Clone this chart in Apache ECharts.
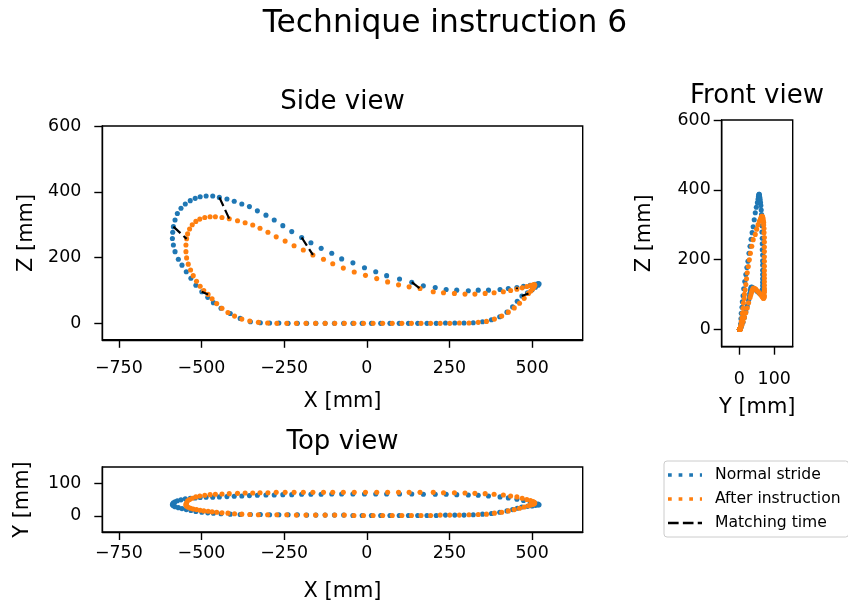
<!DOCTYPE html>
<html><head><meta charset="utf-8">
<script src="https://cdn.jsdelivr.net/npm/echarts@6/dist/echarts.min.js"></script>
<style>html,body{margin:0;padding:0;background:#fff}#c{width:848px;height:603px}</style>
</head><body><div id="c"></div>
<script>
// Normal stride (blue), time-ordered samples
const normX=[322,294,266,238,210,182,154,126,98,70,42,14,-14,-42,-70,-98,-126,-154,-182,-210,-238,-266,-294,-322,-352,-383,-413,-441,-464,-481,-499,-517,-532,-546,-559,-570,-580,-585,-588,-587,-585,-580,-573,-562,-549,-534,-519,-504,-486,-466,-446,-423,-401,-378,-355,-331,-305,-280,-254,-227,-197,-169,-138,-106,-76,-42,-7,27,60,99,136,171,207,240,272,307,337,368,403,428,454,474,494,509,518,521,518,510,500,486,469,455,441,424,402,377,350];
const normZ=[2,1,1,1,0,0,0,0,0,0,0,0,0,0,0,0,0,0,0,0,0,1,1,2,5,15,30,46,63,79,96,116,137,157,177,195,218,238,258,277,294,314,334,350,363,373,380,385,387,387,383,378,371,363,355,342,329,314,297,279,261,245,228,213,196,184,169,157,145,135,125,114,109,103,101,99,101,101,103,106,109,113,116,119,121,120,116,110,102,93,83,67,50,34,20,11,5];
const normY=[3,2,2,2,1,1,1,1,1,1,1,1,1,1,2,2,2,2,2,3,3,3,3,4,4,4,5,6,8,9,11,13,16,19,22,25,28,31,34,37,40,43,46,49,52,54,55,56,57,57,58,59,60,61,62,63,64,64,65,65,66,66,66,67,67,67,67,67,67,67,67,66,66,66,65,64,63,61,58,55,51,47,43,39,36,34,33,32,30,29,27,23,19,15,11,7,5];
// After instruction (orange), time-ordered samples
const instX=[309,280,251,222,193,164,135,106,77,48,19,-10,-39,-68,-97,-126,-155,-184,-213,-242,-272,-300,-328,-354,-378,-400,-420,-438,-454,-468,-480,-493,-504,-515,-525,-533,-540,-545,-547,-547,-545,-542,-536,-528,-517,-505,-490,-474,-458,-438,-416,-391,-368,-345,-323,-299,-274,-247,-220,-192,-163,-131,-103,-71,-38,-4,30,63,96,128,161,201,232,265,297,327,358,385,413,435,454,470,484,495,503,507,508,506,502,496,489,476,462,446,428,408,386,362,337];
const instZ=[1,1,0,0,0,0,0,0,0,0,0,0,0,0,0,0,0,0,0,0,0,1,3,7,13,22,33,46,60,75,88,100,113,128,145,162,180,199,218,238,257,272,287,300,310,317,322,324,324,322,318,312,306,299,289,277,263,250,236,223,208,195,181,168,156,146,136,126,117,111,106,96,93,91,89,89,91,93,96,100,104,108,112,115,117,118,116,111,105,98,91,76,61,47,34,22,13,6,3];
const instY=[3,2,2,2,1,1,1,1,1,1,1,1,1,2,2,2,2,2,2,3,3,3,3,4,5,6,8,9,11,12,14,15,17,19,21,23,26,29,32,36,40,46,50,54,58,61,63,65,66,67,68,69,70,70,71,71,72,72,72,72,72,72,72,72,72,72,72,72,72,72,72,72,71,71,70,69,68,66,64,61,58,54,50,47,44,41,39,37,35,33,31,27,23,19,15,11,8,5,4];
// sample indices joined by the "Matching time" segments
const matchIdx=[30,40,50,60,70,80,90];
// tick values
const sideXTicks=[-750,-500,-250,0,250,500];
const zTicks=[0,200,400,600];
const topYTicks=[0,100];
const frontYTicks=[0,100];

const FONT='DejaVu Sans';
const BLUE='#1f77b4', ORANGE='#ff7f0e';
const fmt=v=>String(v).replace('-','\u2212');

function axis(gi,min,max,ticks,name,gap,isY,margin){
  return {
    type:'value', gridIndex:gi, min:min, max:max, scale:false,
    name:name, nameLocation:'middle', nameGap:gap, nameRotate:isY?90:0,
    nameTextStyle:{fontFamily:FONT,fontSize:20.9,color:'#000'},
    axisLine:{show:true,onZero:false,lineStyle:{color:'#000',width:1.4}},
    axisTick:{show:true,customValues:ticks,length:8,lineStyle:{color:'#000',width:1.4}},
    axisLabel:{show:true,customValues:ticks,formatter:fmt,fontFamily:FONT,fontSize:17.4,color:'#000',margin:margin},
    splitLine:{show:false}
  };
}
function pts(a,b){return a.map((v,i)=>[v,b[i]]);}
function sc(name,color,xi,yi,data){
  return {type:'scatter',name:name,xAxisIndex:xi,yAxisIndex:yi,data:data,symbol:'circle',symbolSize:5.1,
    itemStyle:{color:color,opacity:1},silent:true,animation:false};
}
const series=[
  sc('Normal stride',BLUE,0,0,pts(normX,normZ)),
  sc('After instruction',ORANGE,0,0,pts(instX,instZ)),
  sc('Normal stride',BLUE,1,1,pts(normX,normY)),
  sc('After instruction',ORANGE,1,1,pts(instX,instY)),
  sc('Normal stride',BLUE,2,2,pts(normY,normZ)),
  sc('After instruction',ORANGE,2,2,pts(instY,instZ))
];
matchIdx.forEach(k=>{
  series.push({type:'line',name:'Matching time',xAxisIndex:0,yAxisIndex:0,
    data:[[normX[k],normZ[k]],[instX[k],instZ[k]]],symbol:'none',showSymbol:false,silent:true,animation:false,z:5,
    itemStyle:{color:'#000'},lineStyle:{color:'#000',width:2.2,type:[9.6,4.2]}});
});

const titleStyle=s=>({fontFamily:FONT,fontSize:s,fontWeight:'normal',color:'#000'});
const option={
  backgroundColor:'#fff',
  animation:false,
  title:[
    {text:'Technique instruction 6',left:445,top:8,textAlign:'center',padding:0,textStyle:titleStyle(31.3)},
    {text:'Side view',left:342.5,top:89,textAlign:'center',padding:0,textStyle:titleStyle(26)},
    {text:'Front view',left:757,top:83,textAlign:'center',padding:0,textStyle:titleStyle(26)},
    {text:'Top view',left:342.5,top:429,textAlign:'center',padding:0,textStyle:titleStyle(26)}
  ],
  grid:[
    {left:102.3,top:126,width:480.4,height:213.8,show:true,borderColor:'#000',borderWidth:1.4,backgroundColor:'transparent'},
    {left:102.3,top:467,width:480.4,height:65,show:true,borderColor:'#000',borderWidth:1.4,backgroundColor:'transparent'},
    {left:721.7,top:120,width:71,height:226.7,show:true,borderColor:'#000',borderWidth:1.4,backgroundColor:'transparent'}
  ],
  xAxis:[
    axis(0,-800,653,sideXTicks,'X [mm]',51,false,20),
    axis(1,-800,653,sideXTicks,'X [mm]',49,false,13),
    axis(2,-50,153,frontYTicks,'Y [mm]',50,false,24)
  ],
  yAxis:[
    axis(0,-50,600,zTicks,'Z [mm]',60,true,21),
    axis(1,-50,150,topYTicks,'Y [mm]',69,true,21),
    axis(2,-50,600,zTicks,'Z [mm]',67,true,11)
  ],
  legend:{
    orient:'vertical',left:664,top:461,selectedMode:false,
    backgroundColor:'#fff',borderColor:'#cccccc',borderWidth:1,borderRadius:3,
    padding:[6,8,6,4],itemGap:8,itemWidth:34,itemHeight:4,
    textStyle:{fontFamily:FONT,fontSize:15.6,color:'#000',padding:[0,0,0,8]},
    data:[
      {name:'Normal stride',icon:'path://M0,0h3.5v3.5h-3.5z M10,0h3.5v3.5h-3.5z M20,0h3.5v3.5h-3.5z M30,0h2v3.5h-2z'},
      {name:'After instruction',icon:'path://M0,0h3.5v3.5h-3.5z M10,0h3.5v3.5h-3.5z M20,0h3.5v3.5h-3.5z M30,0h2v3.5h-2z'},
      {name:'Matching time',icon:'path://M0,0h10v2.2h-10z M14,0h10v2.2h-10z M28,0h4v2.2h-4z'}
    ]
  },
  series:series
};
const chart=echarts.init(document.getElementById('c'),null,{renderer:'canvas'});
chart.setOption(option);
</script>
</body></html>
